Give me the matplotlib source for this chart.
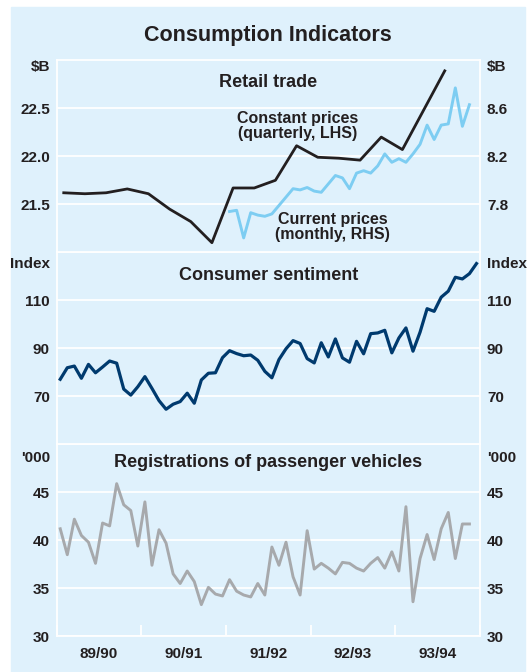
import numpy as np
import matplotlib
matplotlib.use("Agg")
import matplotlib.pyplot as plt
from matplotlib.patches import Rectangle

# ==============================
# DATA (monthly from Jul 1989, quarterly from Sep qtr 1989)
# ==============================
year_labels = ["89/90", "90/91", "91/92", "92/93", "93/94"]

retail_constant = [21.62, 21.61, 21.62, 21.66, 21.61, 21.45, 21.32, 21.10,
                   21.67, 21.67, 21.75, 22.11, 21.99, 21.98, 21.96, 22.20,
                   22.07, 22.48, 22.89]

# current prices start Jul 1991
retail_current_start = 24
retail_current = [7.74, 7.75, 7.52, 7.73, 7.71, 7.70, 7.72, 7.79, 7.86, 7.93,
                  7.92, 7.94, 7.91, 7.90, 7.97, 8.04, 8.02, 7.93, 8.06, 8.08,
                  8.06, 8.12, 8.22, 8.15, 8.18, 8.15, 8.22, 8.30, 8.46, 8.34,
                  8.46, 8.47, 8.77, 8.45, 8.63]

sentiment = [77.1, 81.9, 82.6, 77.5, 83.3, 79.8, 82.2, 84.7, 83.8, 73.0,
             70.5, 74.0, 78.2, 73.3, 68.2, 64.6, 66.7, 67.8, 71.3, 67.1,
             76.8, 79.6, 79.8, 86.1, 89.0, 87.8, 86.9, 87.2, 85.0, 80.4,
             77.7, 85.3, 89.8, 93.2, 92.0, 85.7, 83.9, 92.3, 86.4, 93.9,
             86.0, 84.2, 92.9, 87.7, 96.1, 96.4, 97.5, 88.1, 94.3, 98.5,
             88.8, 96.7, 106.5, 105.4, 111.3, 113.8, 119.6, 118.9, 121.1, 125.3]

registrations = [41.2, 38.5, 42.2, 40.5, 39.8, 37.6, 41.8, 41.5, 45.9, 43.7,
                 43.1, 39.4, 44.0, 37.4, 41.1, 39.7, 36.5, 35.5, 36.8, 35.7,
                 33.3, 35.1, 34.4, 34.2, 35.9, 34.7, 34.3, 34.1, 35.5, 34.3,
                 39.3, 37.4, 39.8, 36.2, 34.3, 41.0, 37.0, 37.6, 37.1, 36.5,
                 37.7, 37.6, 37.1, 36.8, 37.6, 38.2, 37.1, 38.8, 36.8, 43.5,
                 33.6, 38.1, 40.6, 38.0, 41.2, 42.9, 38.1, 41.7, 41.7]

# ==============================
# STYLE
# ==============================
BG = "#dff1fc"
TXT = "#231f20"
plt.rcParams["font.family"] = ["Liberation Sans", "DejaVu Sans"]
plt.rcParams["font.weight"] = "bold"

fig = plt.figure(figsize=(5.29, 6.72), dpi=100)
fig.patches.append(Rectangle((11 / 529, 0), 514 / 529, 665 / 672,
                             transform=fig.transFigure, color=BG, zorder=-10))

left, width = 0.1072, 0.8002
h = 192 / 672
bottom0 = 1 - 636.3 / 672
ax3 = fig.add_axes([left, bottom0, width, h])
ax2 = fig.add_axes([left, bottom0 + h, width, h])
ax1 = fig.add_axes([left, bottom0 + 2 * h, width, h])


def style_axes(ax):
    ax.set_facecolor(BG)
    for s in ax.spines.values():
        s.set_color("white")
        s.set_linewidth(1.3)
    ax.grid(axis="y", color="white", linewidth=1.3)
    ax.set_axisbelow(True)
    ax.set_xlim(0, 60)
    ax.tick_params(axis="y", length=0, pad=5, labelsize=11, labelcolor=TXT)
    ax.tick_params(axis="x", length=0, labelbottom=False)


for ax in (ax1, ax2, ax3):
    style_axes(ax)

months = np.arange(60) + 0.5

# ==============================
# PANEL 1 - RETAIL TRADE
# ==============================
ax1.set_ylim(21.0, 23.0)
ax1.set_yticks([21.5, 22.0, 22.5])
ax1.set_yticklabels(["21.5", "22.0", "22.5"])
q_x = np.arange(len(retail_constant)) * 3 + 1
ax1.plot(q_x, retail_constant, color=TXT, lw=2.0, zorder=3)

ax1r = ax1.twinx()
ax1r.set_xlim(0, 60)
ax1r.set_ylim(7.4, 9.0)
ax1r.set_yticks([7.8, 8.2, 8.6])
ax1r.set_yticklabels(["7.8", "8.2", "8.6"])
ax1r.tick_params(axis="y", length=0, pad=5, labelsize=11, labelcolor=TXT)
for s in ax1r.spines.values():
    s.set_visible(False)
cur_x = months[retail_current_start:retail_current_start + len(retail_current)]
ax1r.plot(cur_x, retail_current, color="#7dcdf2", lw=2.1)

ax1.text(0.5, 0.883, "Retail trade", transform=ax1.transAxes, ha="center",
         va="center", fontsize=13, color=TXT)
ax1.text(0.568, 0.658, "Constant prices\n(quarterly, LHS)", transform=ax1.transAxes,
         ha="center", va="center", fontsize=11.5, color=TXT, linespacing=1.05)
ax1.text(0.652, 0.132, "Current prices\n(monthly, RHS)", transform=ax1.transAxes,
         ha="center", va="center", fontsize=11.5, color=TXT, linespacing=1.05)

# ==============================
# PANEL 2 - CONSUMER SENTIMENT
# ==============================
ax2.set_ylim(50, 130)
ax2.set_yticks([70, 90, 110])
ax2.tick_params(axis="y", labelright=True)
ax2.plot(months[:len(sentiment)], sentiment, color="#003a6e", lw=2.3)
ax2.text(0.5, 0.877, "Consumer sentiment", transform=ax2.transAxes, ha="center",
         va="center", fontsize=13, color=TXT)

# ==============================
# PANEL 3 - REGISTRATIONS
# ==============================
ax3.set_ylim(30, 50)
ax3.set_yticks([30, 35, 40, 45])
ax3.tick_params(axis="y", labelright=True)
ax3.plot(months[:len(registrations)], registrations, color="#a7a9ac", lw=2.1)
ax3.text(0.5, 0.903, "Registrations of passenger vehicles", transform=ax3.transAxes,
         ha="center", va="center", fontsize=13, color=TXT)

ax3.set_xticks(np.arange(0, 61, 12))
ax3.set_xticks(np.arange(6, 60, 12), minor=True)
ax3.set_xticklabels(year_labels, minor=True)
ax3.tick_params(axis="x", which="major", direction="in", length=8, width=1.3,
                color="white", labelbottom=False)
ax3.tick_params(axis="x", which="minor", length=0, pad=8, labelsize=11,
                labelcolor=TXT, labelbottom=True)

# unit labels
for ax, unit, yy in [(ax1, "$B", 1.0), (ax2, "Index", 0.974), (ax3, "'000", 0.966)]:
    ax.text(-0.016, yy, unit, transform=ax.transAxes, ha="right", va="top",
            fontsize=11, color=TXT)
    ax.text(1.016, yy, unit, transform=ax.transAxes, ha="left", va="top",
            fontsize=11, color=TXT)

fig.text(0.507, 1 - 36 / 672, "Consumption Indicators", ha="center", va="center",
         fontsize=15.5, color=TXT)

fig.savefig("out.png", dpi=100, facecolor="white")
print("saved out.png")
